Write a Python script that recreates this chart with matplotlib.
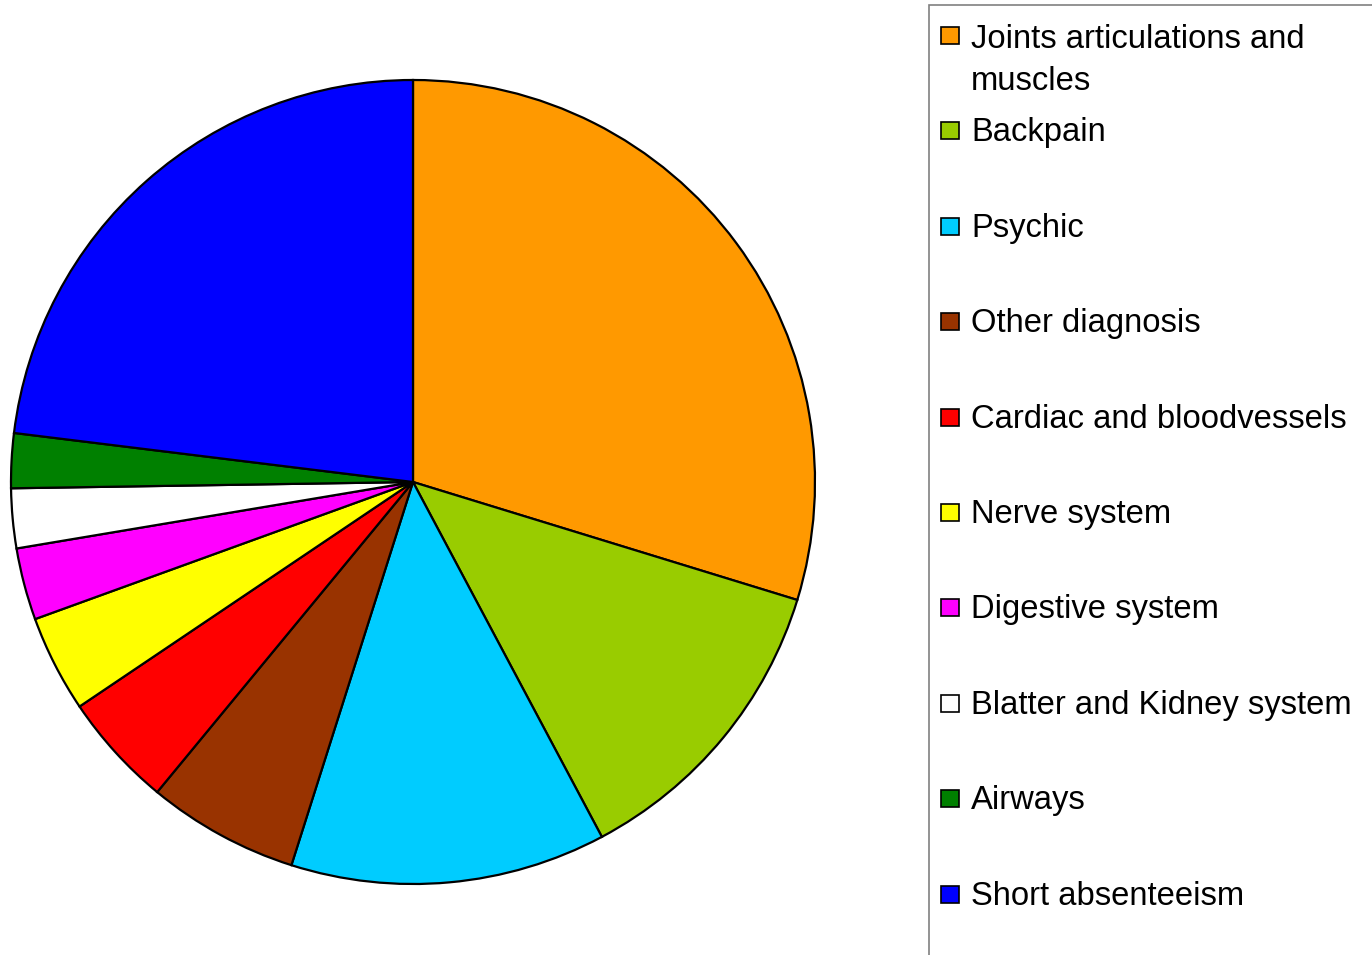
"""Sick leave by diagnosis - pie chart with side legend"""
import matplotlib
matplotlib.use("Agg")
import matplotlib.pyplot as plt
from matplotlib.patches import Rectangle

plt.rcParams["font.family"] = ["Liberation Sans", "DejaVu Sans"]

# data (percent, clockwise from 12 o'clock)
labels = [
    "Joints articulations and\nmuscles",
    "Backpain",
    "Psychic",
    "Other diagnosis",
    "Cardiac and bloodvessels",
    "Nerve system",
    "Digestive system",
    "Blatter and Kidney system",
    "Airways",
    "Short absenteeism",
]
shares = [29.8, 12.5, 12.7, 6.1, 4.6, 3.9, 2.9, 2.4, 2.2, 23.1]
colors = [
    "#FF9900", "#99CC00", "#00CCFF", "#993300", "#FF0000",
    "#FFFF00", "#FF00FF", "#FFFFFF", "#008000", "#0000FF",
]

W, H = 1372, 955
fig = plt.figure(figsize=(W / 100, H / 100), dpi=100)

# pie: centre (413, 482) px, radius 402 px
cx, cy, r = 413, 482, 402
ax = fig.add_axes([(cx - r) / W, (H - cy - r) / H, 2 * r / W, 2 * r / H])
ax.pie(shares, colors=colors, startangle=90, counterclock=False,
       wedgeprops=dict(edgecolor="black", linewidth=1.6))
ax.set_xlim(-1, 1)
ax.set_ylim(-1, 1)
ax.set_aspect("auto")
ax.axis("off")

# legend drawn by hand so the row spacing matches the original
fig.patches.append(Rectangle((929 / W, -0.1), 1.0, (H - 5) / H + 0.1,
                             transform=fig.transFigure, facecolor="none",
                             edgecolor="#808080", linewidth=1.2))
step = 95.4
line_gap = 44
for i, (lab, col) in enumerate(zip(labels, colors)):
    base = 44 + i * step
    fig.patches.append(Rectangle((941 / W, (H - base) / H), 18 / W, 17 / H,
                                 transform=fig.transFigure, facecolor=col,
                                 edgecolor="black", linewidth=1.2))
    # baseline alignment uses the last line, so push multi-line labels down
    last = base + 2 + line_gap * lab.count("\n")
    fig.text(971 / W, (H - last) / H, lab, fontsize=23.6, va="baseline",
             ha="left", linespacing=1.45)

fig.savefig("out.png", dpi=100)
